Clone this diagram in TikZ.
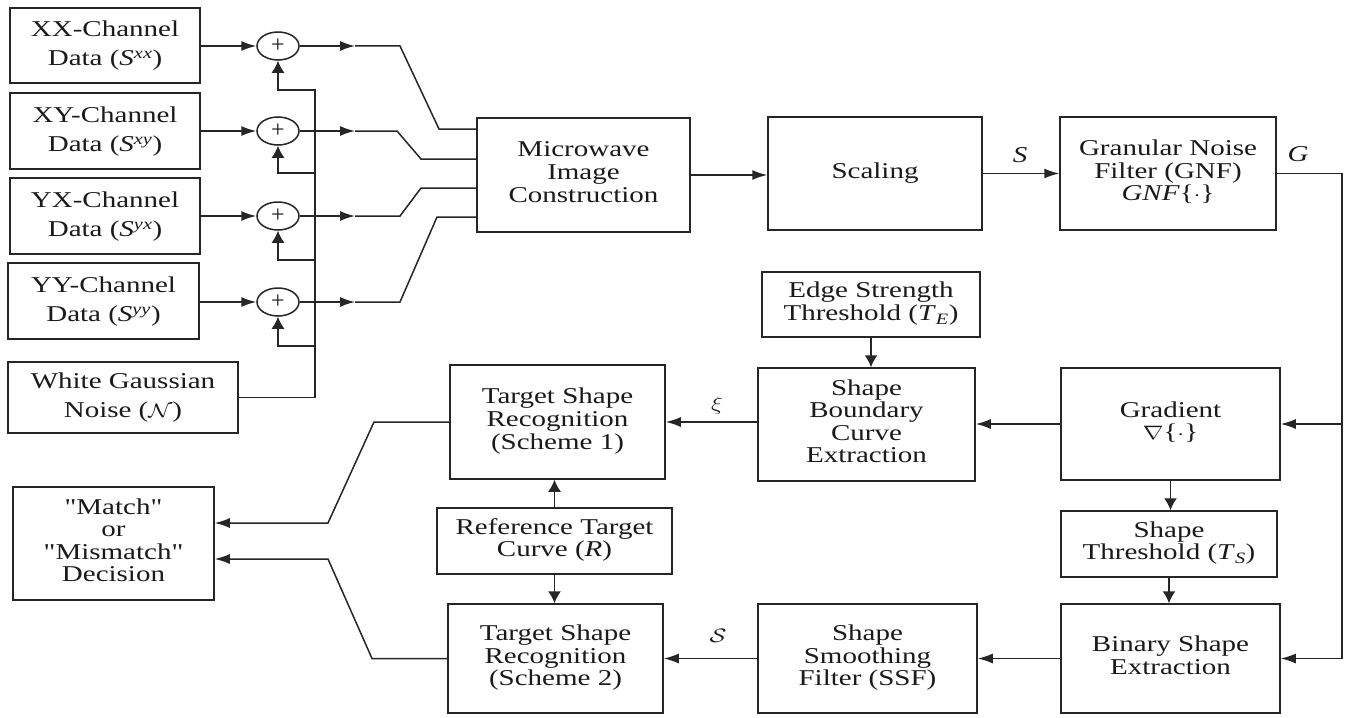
\documentclass[tikz,border=0pt]{standalone}
\usepackage{fontspec}
\setmainfont{Liberation Serif}
\usepackage{graphicx}
\usetikzlibrary{arrows.meta,shapes.geometric}
\definecolor{linec}{HTML}{262626}
\definecolor{txtc}{HTML}{1A1A1A}
\newcommand{\tx}[2][29]{\scalebox{1}[0.78]{\fontsize{29}{#1}\selectfont\begin{tabular}{@{}c@{}}#2\end{tabular}}}
\tikzset{
  box/.style={draw=linec, line width=1.5pt, inner sep=0pt, text=txtc, fill=white},
  ln/.style={draw=linec, line width=1.5pt},
  harr/.style={draw=linec, line width=1.5pt, -{Latex[length=15pt,width=10pt]}},
  varr/.style={draw=linec, line width=1.5pt, -{Latex[length=12pt,width=13pt]}},
  sumnode/.style={ellipse, draw=linec, line width=1.5pt, minimum width=42pt, minimum height=28pt, inner sep=0pt, text=txtc},
  lbl/.style={inner sep=0pt, text=txtc}
}
\begin{document}
\begin{tikzpicture}[x=1pt,y=-1pt]
\useasboundingbox[fill=white] (0,0) rectangle (1348,717);

% input boxes
\node[box, minimum width=190pt, minimum height=75pt] (xx) at (105,45.5) {\tx[37]{XX-Channel\\Data (\textit{S}\textsuperscript{\textit{xx}})}};
\node[box, minimum width=190pt, minimum height=76pt] (xy) at (105,131) {\tx[37]{XY-Channel\\Data (\textit{S}\textsuperscript{\textit{xy}})}};
\node[box, minimum width=190pt, minimum height=76pt] (yx) at (105,216) {\tx[37]{YX-Channel\\Data (\textit{S}\textsuperscript{\textit{yx}})}};
\node[box, minimum width=191pt, minimum height=76pt] (yy) at (103.5,301) {\tx[37]{YY-Channel\\Data (\textit{S}\textsuperscript{\textit{yy}})}};
\node[box, minimum width=230pt, minimum height=71pt] (wgn) at (123,397.5) {\tx[37]{White Gaussian\\Noise ($\mathcal{N}$)}};

% summing junctions
\node[sumnode] (s1) at (278,46) {\fontsize{24}{24}\selectfont +};
\node[sumnode] (s2) at (278,131) {\fontsize{24}{24}\selectfont +};
\node[sumnode] (s3) at (278,216) {\fontsize{24}{24}\selectfont +};
\node[sumnode] (s4) at (278,302) {\fontsize{24}{24}\selectfont +};

% main blocks
\node[box, minimum width=213pt, minimum height=114pt] (mic) at (583.5,175) {\tx{Microwave\\Image\\Construction}};
\node[box, minimum width=214pt, minimum height=113pt] (scal) at (875,173.5) {\tx{Scaling}};
\node[box, minimum width=216pt, minimum height=113pt] (gnf) at (1168,173.5) {\tx{Granular Noise\\Filter (GNF)\\\textit{GNF}\{$\cdot$\}}};
\node[box, minimum width=218pt, minimum height=65pt] (edge) at (871,304.5) {\tx{Edge Strength\\Threshold (\textit{T}\textsubscript{\textit{E}})}};
\node[box, minimum width=217pt, minimum height=113pt] (sbce) at (866.5,424.5) {\tx{Shape\\Boundary\\Curve\\Extraction}};
\node[box, minimum width=219pt, minimum height=112pt] (grad) at (1170.5,424) {\tx{Gradient\\$\nabla$\{$\cdot$\}}};
\node[box, minimum width=215pt, minimum height=114pt] (tsr1) at (557.5,422) {\tx{Target Shape\\Recognition\\(Scheme 1)}};
\node[box, minimum width=216pt, minimum height=66pt] (thr) at (1169,544) {\tx{Shape\\Threshold (\textit{T}\textsubscript{\textit{S}})}};
\node[box, minimum width=219pt, minimum height=109pt] (bin) at (1170.5,658.5) {\tx{Binary Shape\\Extraction}};
\node[box, minimum width=219pt, minimum height=109pt] (ssf) at (867.5,658.5) {\tx{Shape\\Smoothing\\Filter (SSF)}};
\node[box, minimum width=215pt, minimum height=109pt] (tsr2) at (555.5,658.5) {\tx{Target Shape\\Recognition\\(Scheme 2)}};
\node[box, minimum width=235pt, minimum height=66pt] (ref) at (554.5,541) {\tx{Reference Target\\Curve (\textit{R})}};
\node[box, minimum width=201pt, minimum height=113pt] (dec) at (113.5,543.5) {\tx{\textquotedbl Match\textquotedbl\\or\\\textquotedbl Mismatch\textquotedbl\\Decision}};

% labels
\node[lbl] (lS) at (1020,158) {\tx{\textit{S}}};
\node[lbl] (lG) at (1298,157) {\tx{\textit{G}}};
\node[lbl] (lxi) at (717,406) {\tx{$\xi$}};
\node[lbl] (lcS) at (718,638) {\tx{$\mathcal{S}$}};

% inputs to summers
\draw[harr] (s1.west -| xx.east) -- (s1.west);
\draw[harr] (s2.west -| xy.east) -- (s2.west);
\draw[harr] (s3.west -| yx.east) -- (s3.west);
\draw[harr] (s4.west -| yy.east) -- (s4.west);

% noise bus
\coordinate (b1) at (315,90);
\coordinate (b2) at (315,173);
\coordinate (b3) at (315,260);
\coordinate (b4) at (315,346);
\draw[varr] (wgn.east) -| (b1) -| (s1.south);
\draw[varr] (b2) -| (s2.south);
\draw[varr] (b3) -| (s3.south);
\draw[varr] (b4) -| (s4.south);

% summers to MIC
\coordinate (m1) at (355,46);
\coordinate (m2) at (355,131);
\coordinate (m3) at (355,216);
\coordinate (m4) at (355,302);
\draw[harr] (s1.east) -- (m1);
\draw[harr] (s2.east) -- (m2);
\draw[harr] (s3.east) -- (m3);
\draw[harr] (s4.east) -- (m4);
\draw[ln] (m1) -- (400,46) -- (439,129) -- (439,129 -| mic.west);
\draw[ln] (m2) -- (397,131) -- (421,159) -- (421,159 -| mic.west);
\draw[ln] (m3) -- (400,216) -- (421,188) -- (421,188 -| mic.west);
\draw[ln] (m4) -- (400,302) -- (437,217) -- (437,217 -| mic.west);

% top chain
\draw[harr] (mic.east) -- (mic.east -| scal.west);
\draw[harr] (scal.east) -- (scal.east -| gnf.west);

% right bus
\coordinate (rb) at (1342,424);
\coordinate (rbot) at (1342,658.5);
\draw[harr] (gnf.east) -| (rbot) -- (bin.east);
\draw[harr] (rb) -- (grad.east);

% middle / lower chains
\draw[harr] (grad.west) -- (grad.west -| sbce.east);
\draw[varr] (edge.south) -- (edge.south |- sbce.north);
\draw[harr] (tsr1.east -| sbce.west) -- (tsr1.east);
\draw[varr] (grad.south) -- (grad.south |- thr.north);
\draw[varr] (thr.south) -- (thr.south |- bin.north);
\draw[harr] (bin.west) -- (bin.west -| ssf.east);
\draw[harr] (ssf.west) -- (ssf.west -| tsr2.east);
\draw[varr] (ref.north) -- (ref.north |- tsr1.south);
\draw[varr] (ref.south) -- (ref.south |- tsr2.north);

% to decision
\draw[harr] (tsr1.west) -- (374,422) -- (328,523) -- (328,523 -| dec.east);
\draw[harr] (tsr2.west) -- (372,658.5) -- (328,559) -- (328,559 -| dec.east);
\end{tikzpicture}
\end{document}
